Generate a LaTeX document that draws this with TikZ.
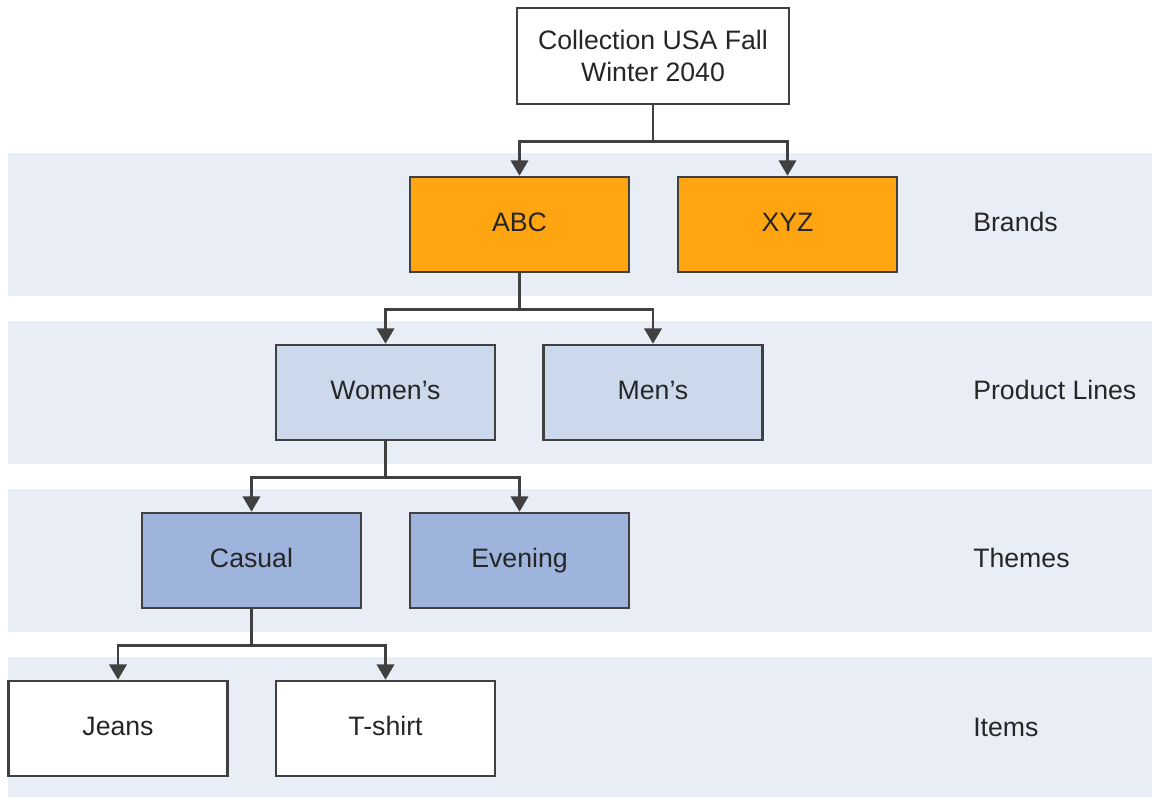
\documentclass[tikz,border=0pt]{standalone}
\usepackage{fontspec}
\setmainfont{Liberation Sans}
\usetikzlibrary{arrows.meta}
\definecolor{band}{HTML}{E9EDF6}
\definecolor{orng}{HTML}{FFA511}
\definecolor{lblue}{HTML}{CCD9EC}
\definecolor{mblue}{HTML}{9EB4DC}
\definecolor{lin}{HTML}{404040}
\definecolor{txt}{HTML}{262626}
\begin{document}
\begin{tikzpicture}[x=0.75pt,y=-0.75pt,
  box/.style={draw=lin,line width=1.9pt,minimum width=219*0.75pt,minimum height=95*0.75pt,
    inner sep=0pt,align=center,text=txt,text height=14.5pt,text depth=4pt,font=\fontsize{20}{24}\selectfont},
  lbl/.style={anchor=west,text=txt,inner sep=0pt,font=\fontsize{20}{24}\selectfont},
  conn/.style={draw=lin,line width=1.9pt,-{Triangle[length=11.5pt,width=13pt]}}]
\useasboundingbox (0,0) rectangle (1152,797);
\foreach \t/\b in {153/296,321/464,489/632,657/797}
  \fill[band] (8,\t) rectangle (1152,\b);
\node[box,fill=white,minimum width=272*0.75pt,minimum height=96*0.75pt,text height=,text depth=] (top) at (653,56) {Collection USA Fall\\Winter 2040};
\node[box,fill=orng] (abc) at (519.5,224.5) {ABC};
\node[box,fill=orng] (xyz) at (787.5,224.5) {XYZ};
\node[box,fill=lblue] (wom) at (385.5,392.5) {Women’s};
\node[box,fill=lblue] (men) at (653,392.5) {Men’s};
\node[box,fill=mblue] (cas) at (251.5,560.5) {Casual};
\node[box,fill=mblue] (eve) at (519.5,560.5) {Evening};
\node[box,fill=white] (jea) at (118,728.5) {Jeans};
\node[box,fill=white] (tsh) at (385.5,728.5) {T-shirt};
\node[lbl] (l1) at (973,222) {Brands};
\node[lbl] (l2) at (973,390) {Product Lines};
\node[lbl] (l3) at (973,558) {Themes};
\node[lbl] (l4) at (973,727) {Items};
\draw[conn] (top.south) -- ++(0,36) -| (abc.north);
\draw[conn] (top.south) -- ++(0,36) -| (xyz.north);
\draw[conn] (abc.south) -- ++(0,36) -| (wom.north);
\draw[conn] (abc.south) -- ++(0,36) -| (men.north);
\draw[conn] (wom.south) -- ++(0,36) -| (cas.north);
\draw[conn] (wom.south) -- ++(0,36) -| (eve.north);
\draw[conn] (cas.south) -- ++(0,36) -| (jea.north);
\draw[conn] (cas.south) -- ++(0,36) -| (tsh.north);
\end{tikzpicture}
\end{document}
